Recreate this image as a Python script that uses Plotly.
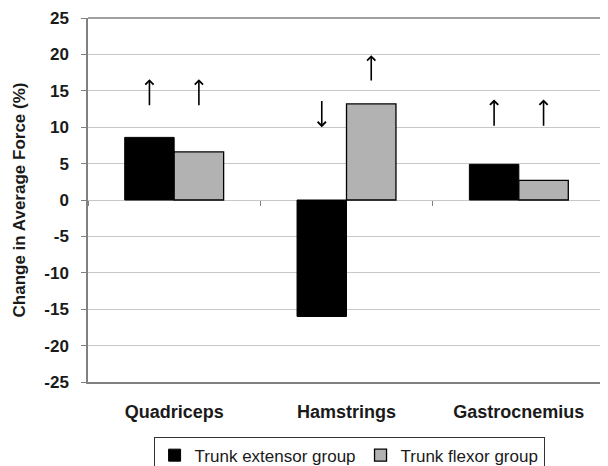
import plotly.graph_objects as go

categories = ["Quadriceps", "Hamstrings", "Gastrocnemius"]
extensor = [8.6, -16.0, 4.9]
flexor = [6.6, 13.2, 2.7]
series_names = ["Trunk extensor group", "Trunk flexor group"]
# significance arrows: (tail value, head value) per bar
arrow_tail = [[12.8, 12.8], [13.8, 16.2], [10.0, 10.0]]
arrow_head = [[16.6, 16.6], [10.0, 19.9], [13.8, 13.8]]
y_ticks = [-25, -20, -15, -10, -5, 0, 5, 10, 15, 20, 25]
y_tick_labels = ["-25", "-20", "-15", "-10", "-5", "0", "5", "10", "15", "20", "25"]

FONT = "Liberation Sans, Arial, sans-serif"

fig = go.Figure()
fig.add_trace(go.Bar(x=categories, y=extensor, name=series_names[0],
                     marker=dict(color="#000000", line=dict(color="#000000", width=1))))
fig.add_trace(go.Bar(x=categories, y=flexor, name=series_names[1],
                     marker=dict(color="#b2b2b2", line=dict(color="#000000", width=1.3))))
# invisible trace carrying the zero-crossing category axis ticks
fig.add_trace(go.Scatter(x=categories, y=[None] * 3, xaxis="x2", showlegend=False,
                         hoverinfo="skip", mode="markers"))

bargap = 0.426
bw = (1 - bargap) / 2
for i, cat in enumerate(categories):
    for j in range(2):
        off = (-bw / 2) if j == 0 else (bw / 2)
        fig.add_annotation(x=i + off, y=arrow_head[i][j], ax=i + off, ay=arrow_tail[i][j],
                           xref="x", yref="y", axref="x", ayref="y", text="",
                           showarrow=True, arrowhead=4, arrowsize=1.0, arrowwidth=1.6,
                           arrowcolor="#000000", standoff=0, startstandoff=0)

bold = dict(family=FONT, size=17, color="#1a1a1a", weight="bold")

fig.update_layout(
    width=608, height=466,
    margin=dict(l=80, r=11, t=10, b=92, autoexpand=False),
    paper_bgcolor="white", plot_bgcolor="white",
    barmode="group", bargap=bargap, bargroupgap=0,
    font=dict(family=FONT, color="#1a1a1a"),
    showlegend=True,
    legend=dict(orientation="h", x=0.505, xanchor="center", y=-0.15, yanchor="top",
                bordercolor="#333333", borderwidth=1,
                font=dict(family=FONT, size=17, color="#1a1a1a"),
                itemwidth=30, tracegroupgap=0),
    xaxis=dict(type="category", range=[-0.5, 2.5], showgrid=False, zeroline=False,
               showline=True, linecolor="#808080", linewidth=1.5, mirror=False,
               automargin=False,
               ticks="", tickfont=dict(family=FONT, size=18, color="#1a1a1a", weight="bold"),
               ticklabelstandoff=13),
    xaxis2=dict(type="category", overlaying="x", anchor="free", position=0.5,
                range=[-0.5, 2.5], categoryarray=categories, tickson="boundaries",
                ticks="outside", ticklen=5, tickcolor="#808080", tickwidth=1,
                automargin=False,
                showticklabels=False, showgrid=False, showline=False, zeroline=False),
    yaxis=dict(range=[-25, 25], tickvals=y_ticks, ticktext=y_tick_labels,
               showgrid=True, gridcolor="#c8c8c8", automargin=False,
               gridwidth=1, zeroline=False, showline=True, linecolor="#808080",
               linewidth=1.5, ticks="outside", ticklen=5, tickcolor="#808080",
               tickfont=bold, ticklabelstandoff=9,
               title=dict(text="Change in Average Force (%)", standoff=14, font=bold)),
)
# top border of plot area
fig.add_shape(type="line", xref="paper", yref="paper", x0=0, x1=1, y0=1, y1=1,
              line=dict(color="#808080", width=1.5))

fig.write_html("out.html")
